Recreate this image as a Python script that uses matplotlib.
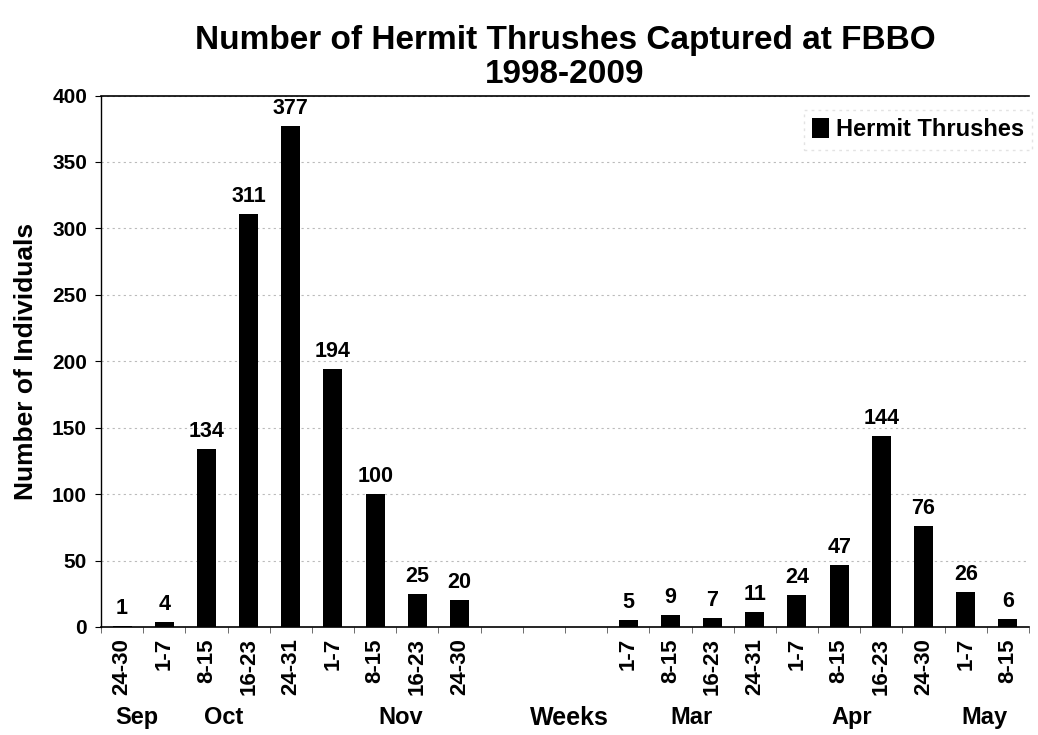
import numpy as np
import matplotlib
matplotlib.use("Agg")
import matplotlib.pyplot as plt
import matplotlib.transforms as mtransforms

plt.rcParams['font.family'] = ['Liberation Sans', 'DejaVu Sans']
plt.rcParams['font.weight'] = 'bold'

# weekly capture totals, fall then spring (three empty weeks in between)
week_labels = ["24-30", "1-7", "8-15", "16-23", "24-31", "1-7", "8-15", "16-23", "24-30",
               "", "", "",
               "1-7", "8-15", "16-23", "24-31", "1-7", "8-15", "16-23", "24-30", "1-7", "8-15"]
counts = [1, 4, 134, 311, 377, 194, 100, 25, 20,
          None, None, None,
          5, 9, 7, 11, 24, 47, 144, 76, 26, 6]

# month labels below the week ticks (x in category units)
months = ["Sep", "Oct", "Nov", "Weeks", "Mar", "Apr", "May"]
month_x = [0.36, 2.4, 6.6, 10.6, 13.5, 17.3, 20.45]

fig = plt.figure(figsize=(10.38, 7.35), dpi=100)
ax = fig.add_axes([0.0973, 0.147, 0.894, 0.723])

x = np.arange(len(counts))
heights = [0 if c is None else c for c in counts]
ax.bar(x, heights, width=0.45, color='black', label='Hermit Thrushes', zorder=3)

# value labels over each bar
for xi, c in zip(x, counts):
    if c is None:
        continue
    ax.annotate(str(c), (xi, c), xytext=(0, 5), textcoords='offset points',
                ha='center', va='bottom', fontsize=15.5, fontweight='bold')

ax.set_xlim(-0.5, len(counts) - 0.5)
ax.set_ylim(0, 400)
ax.set_yticks(np.arange(0, 401, 50))
ax.yaxis.grid(True, color='#bbbbbb', linestyle=(0, (2, 3)), linewidth=0.8, zorder=0)
ax.set_axisbelow(True)

ax.set_xticks(x)
ax.set_xticklabels(week_labels, rotation=90, fontsize=16, fontweight='bold')
ax.tick_params(axis='x', length=0, pad=8)
ax.set_xticks(np.arange(-0.5, len(counts), 1), minor=True)
ax.tick_params(axis='x', which='minor', length=4, direction='out', color='#555555')
ax.tick_params(axis='y', labelsize=15, length=4, direction='out', pad=6)
for t in ax.get_yticklabels():
    t.set_fontweight('bold')

ax.spines['right'].set_visible(False)
ax.spines['top'].set_linewidth(1.2)
ax.spines['left'].set_linewidth(1.0)
ax.spines['bottom'].set_linewidth(1.2)

trans = mtransforms.blended_transform_factory(ax.transData, ax.transAxes)
for m, mx in zip(months, month_x):
    ax.text(mx, -0.171, m, transform=trans, ha='center', va='center',
            fontsize=18 if m == "Weeks" else 17, fontweight='bold')

ax.set_ylabel("Number of Individuals", fontsize=19, fontweight='bold', labelpad=10)
ax.set_title("Number of Hermit Thrushes Captured at FBBO\n1998-2009", fontsize=24,
             fontweight='bold', pad=9, linespacing=1.12)

leg = ax.legend(loc='upper right', fontsize=17, frameon=True, handlelength=0.7,
                handleheight=0.9, handletextpad=0.3, borderpad=0.35,
                bbox_to_anchor=(1.016, 0.995), fancybox=False)
leg.get_frame().set_edgecolor('#dddddd')
leg.get_frame().set_linestyle((0, (2, 3)))
for t in leg.get_texts():
    t.set_fontweight('bold')

fig.savefig("out.png", dpi=100)
